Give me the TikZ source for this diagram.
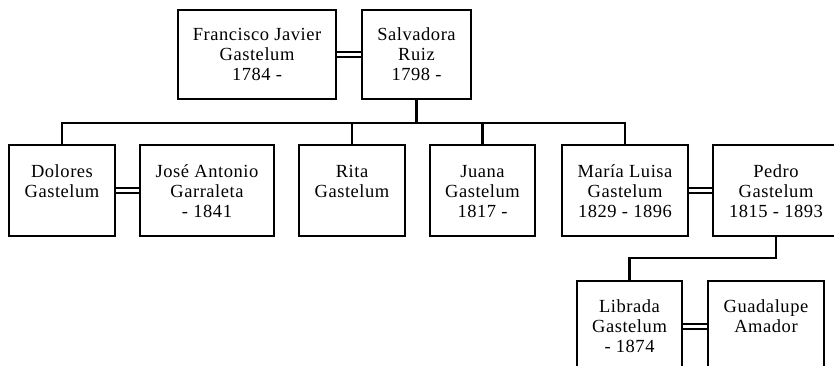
\documentclass[tikz,border=0pt]{standalone}
\usepackage{fontspec}
\setmainfont{Liberation Serif}[LetterSpace=3]
\begin{document}
\begin{tikzpicture}[x=1pt,y=-1pt,
  box/.style={draw, line width=2.2pt, inner sep=0pt, minimum height=91pt},
  txt/.style={anchor=north, inner sep=0pt, align=center, font=\fontsize{18.5}{20}\selectfont},
  marr/.style={double, double distance=3.2pt, line width=1.9pt},
  link/.style={line width=2.2pt}]
\useasboundingbox (0,0) rectangle (834,366);
\clip (0,0) rectangle (834,366);
% top row
\node[box, minimum width=158pt, minimum height=89pt] (fj) at (257,54.5) {};
\node[box, minimum width=109pt, minimum height=89pt] (sr) at (416.5,54.5) {};
% middle row
\node[box, minimum width=106pt] (dg) at (62,190.5) {};
\node[box, minimum width=134pt] (ja) at (207,190.5) {};
\node[box, minimum width=106pt] (rg) at (352,190.5) {};
\node[box, minimum width=105pt] (jg) at (482.5,190.5) {};
\node[box, minimum width=126pt] (ml) at (625,190.5) {};
\node[box, minimum width=126pt] (pg) at (776,190.5) {};
% bottom row
\node[box, minimum width=105pt] (lg) at (629.5,326.5) {};
\node[box, minimum width=116pt] (ga) at (766,326.5) {};
% texts
\node[txt] (fjt) at ([yshift=-17pt]fj.north) {\strut Francisco Javier\\Gastelum\\1784 -};
\node[txt] (srt) at ([yshift=-17pt]sr.north) {\strut Salvadora\\Ruiz\\1798 -};
\node[txt] (dgt) at ([yshift=-19pt]dg.north) {\strut Dolores\\Gastelum};
\node[txt] (jat) at ([yshift=-19pt]ja.north) {\strut José Antonio\\Garraleta\\- 1841};
\node[txt] (rgt) at ([yshift=-19pt]rg.north) {\strut Rita\\Gastelum};
\node[txt] (jgt) at ([yshift=-19pt]jg.north) {\strut Juana\\Gastelum\\1817 -};
\node[txt] (mlt) at ([yshift=-19pt]ml.north) {\strut María Luisa\\Gastelum\\1829 - 1896};
\node[txt] (pgt) at ([yshift=-19pt]pg.north) {\strut Pedro\\Gastelum\\1815 - 1893};
\node[txt] (lgt) at ([yshift=-18pt]lg.north) {\strut Librada\\Gastelum\\- 1874};
\node[txt] (gat) at ([yshift=-18pt]ga.north) {\strut Guadalupe\\Amador};
% marriages
\draw[marr] (fj) -- (sr);
\draw[marr] (dg) -- (ja);
\draw[marr] (ml) -- (pg);
\draw[marr] (lg) -- (ga);
% descent
\coordinate (busL) at (62,123);
\coordinate (busR) at (625,123);
\coordinate (pbus) at (700,258);
\draw[link] (sr.south) -- (sr.south |- busL);
\draw[link] (dg.north) |- (busR) -- (ml.north);
\draw[link] (rg.north) -- (rg.north |- busL);
\draw[link] (jg.north) -- (jg.north |- busL);
\draw[link] (pg.south) |- (pbus) -| (lg.north);
\end{tikzpicture}
\end{document}
